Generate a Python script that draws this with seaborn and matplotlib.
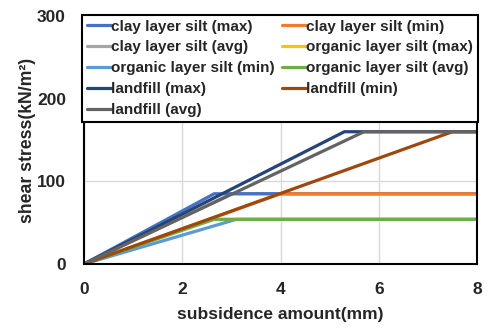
import matplotlib
matplotlib.use('Agg')
import matplotlib.pyplot as plt
import numpy as np
import pandas as pd
import seaborn as sns

# series: each rises linearly from 0 to a plateau, then stays flat to x=8
series = ['clay layer silt (max)', 'clay layer silt (min)', 'clay layer silt (avg)',
          'organic layer silt (max)', 'organic layer silt (min)', 'organic layer silt (avg)',
          'landfill (max)', 'landfill (min)', 'landfill (avg)']
break_x = [2.65, 4.0, 3.0, 2.55, 3.1, 2.65, 5.3, 7.5, 5.7]
plateau = [85, 85, 85, 54, 54, 54, 160, 160, 160]
x_end = 8
colors = ['#4472C4', '#ED7D31', '#A5A5A5', '#FFC000', '#5B9BD5', '#70AD47',
          '#264478', '#9E480E', '#636363']

rows = []
for name, bx, p in zip(series, break_x, plateau):
    for i, (x, y) in enumerate([(0, 0), (bx, p), (x_end, p)]):
        rows.append({'series': name, 'order': i, 'subsidence': x, 'stress': y})
df = pd.DataFrame(rows)

sns.set_theme(style='white')
plt.rcParams['font.family'] = ['Liberation Sans', 'DejaVu Sans']
plt.rcParams['font.weight'] = 'bold'

fig = plt.figure(figsize=(4.87, 3.29), dpi=100)
ax = fig.add_axes([84 / 487, 1 - 264 / 329, (477 - 84) / 487, (264 - 16) / 329])

# clay layer silt (avg) sits underneath the other lines in the reference
draw_order = [2, 0, 1, 3, 4, 5, 6, 7, 8]
for k in draw_order:
    sub = df[df['series'] == series[k]]
    sns.lineplot(data=sub, x='subsidence', y='stress', color=colors[k], sort=False,
                 estimator=None, linewidth=2.3, ax=ax, legend=False)

ax.set_xlim(0, 8)
ax.set_ylim(0, 300)
ax.set_xticks([0, 2, 4, 6, 8])
ax.set_yticks([0, 100, 200, 300])
ax.grid(True, color='#D9D9D9', linewidth=1)
ax.set_axisbelow(True)
for s in ax.spines.values():
    s.set_color('black')
    s.set_linewidth(1.5)
ax.tick_params(axis='both', length=0, labelsize=12.5, pad=13)
for t in ax.get_xticklabels() + ax.get_yticklabels():
    t.set_fontweight('bold')
ax.set_xlabel('subsidence amount(mm)', fontsize=12.5, fontweight='bold', labelpad=7)
ax.set_ylabel('shear stress(kN/m²)', fontsize=12.7, fontweight='bold', labelpad=1)

# legend is filled row by row in the reference
leg_idx = [0, 2, 4, 6, 8, 1, 3, 5, 7]
handles = [plt.Line2D([], [], color=colors[i], linewidth=2.3) for i in leg_idx]
labels = [series[i] for i in leg_idx]
leg = ax.legend(handles, labels, ncol=2, loc='upper left', mode='expand',
                bbox_to_anchor=(-0.004, 0, 1.006, 1.004),
                prop={'weight': 'bold', 'size': 11}, frameon=True, fancybox=False,
                edgecolor='black', framealpha=1, facecolor='white',
                handlelength=1.6, handletextpad=0.0, columnspacing=0.5,
                labelspacing=0.45, borderpad=0.3, borderaxespad=0)
leg.get_frame().set_linewidth(1.5)
leg.set_zorder(10)

fig.savefig('out.png', dpi=100)
